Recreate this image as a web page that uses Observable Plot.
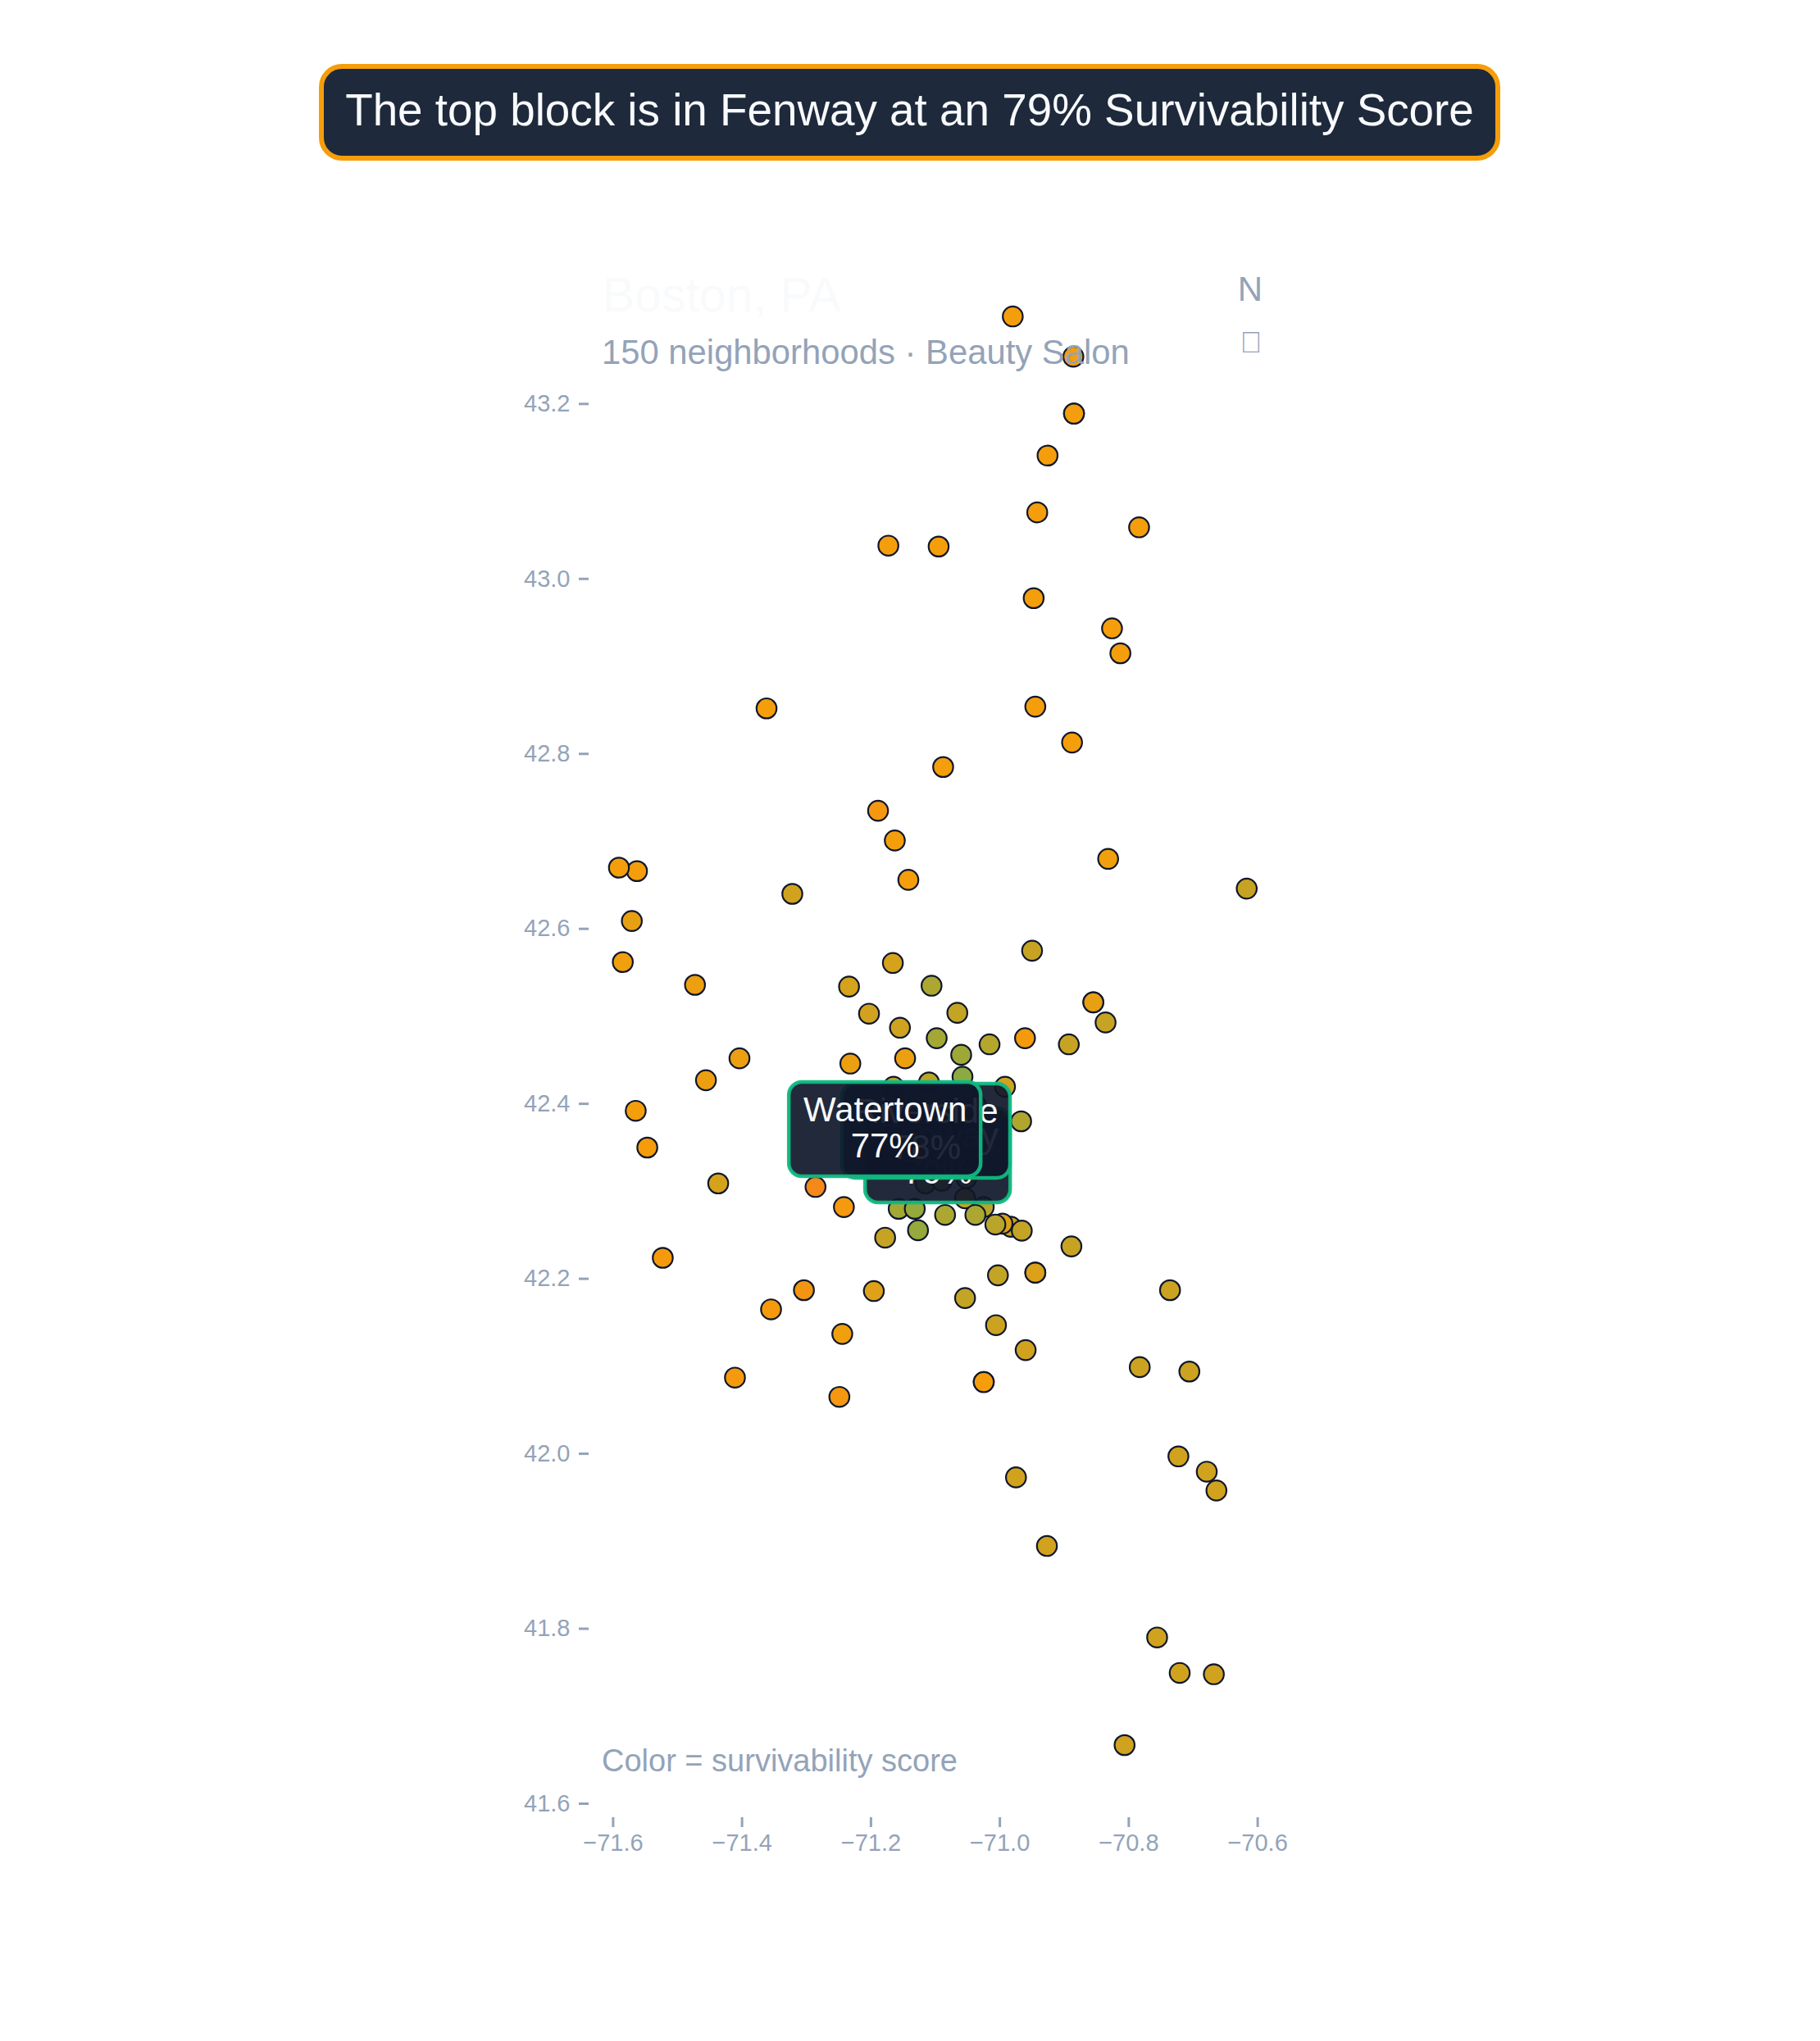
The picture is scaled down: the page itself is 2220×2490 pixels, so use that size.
<!DOCTYPE html>
<html><head><meta charset="utf-8">
<script src="https://cdn.jsdelivr.net/npm/d3@7"></script>
<script src="https://cdn.jsdelivr.net/npm/@observablehq/plot@0.6"></script>
<style>
html,body{margin:0;padding:0;background:#fff;font-family:"Liberation Sans",sans-serif}
#wrap{position:relative;width:2220px;height:2490px;overflow:hidden}
#wrap svg{position:absolute;left:0;top:0}
.lab{position:absolute;white-space:nowrap;line-height:1;font-family:"Liberation Sans",sans-serif}
#banner{position:absolute;left:389px;top:78px;width:1441px;height:118px;box-sizing:border-box;border:6px solid #f59e0b;border-radius:28px;background:#1e293b;color:#f8fafc;font-size:54.8px;text-align:center;line-height:100px;white-space:nowrap}
</style></head><body>
<div id="wrap"></div>
<script>
const bannerText = "The top block is in Fenway at an 79% Survivability Score";
const cityTitle = "Boston, PA";
const subtitle = "150 neighborhoods · Beauty Salon";
const colorNote = "Color = survivability score";
const northLabel = "N";
const compassGlyph = "\uE000";

const xTicks = [-71.6,-71.4,-71.2,-71.0,-70.8,-70.6];
const yTicks = [41.6,41.8,42.0,42.2,42.4,42.6,42.8,43.0,43.2];

const lons = [-70.980,-70.886,-70.885,-70.885,-70.926,-70.942,-70.784,-71.173,-71.095,-70.9475,-70.826,-70.813,-71.362,-70.945,-70.888,-71.088,-71.189,-71.163,-71.563,-71.591,-71.322,-71.142,-70.832,-70.617,-71.571,
-70.950,-71.585,-71.166,-71.473,-71.234,-71.106,-70.855,-70.855,-70.836,-71.203,-71.066,-71.155,-71.098,-71.016,-70.961,-70.893,-71.060,-71.404,-71.147,-71.232,-71.456,-71.058,-71.110,-71.165,-70.992,-71.565,-70.967,-71.547,-71.437,-71.286,-71.242,
-71.1155,-71.090,-71.052,-71.037,-71.054,-71.025,-71.157,-71.132,-71.085,-71.038,-70.983,-70.996,-71.007,-70.966,-71.178,-71.127,-70.889,
-71.523,-71.003,-70.945,-70.945,-71.304,-71.1955,-70.736,-71.355,-71.054,-71.006,-71.2445,-70.960,-70.783,-70.706,-71.411,-71.025,-71.025,-71.249,-70.723,-70.679,-70.664,-70.975,-70.927,-70.756,-70.721,-70.668,-70.8065];
const lats = [43.300,43.254,43.189,43.189,43.141,43.076,43.059,43.038,43.037,42.978,42.9435,42.915,42.852,42.854,42.813,42.785,42.735,42.701,42.666,42.670,42.640,42.656,42.680,42.646,42.609,
42.575,42.562,42.561,42.536,42.534,42.535,42.516,42.516,42.493,42.503,42.504,42.487,42.475,42.468,42.475,42.468,42.456,42.452,42.452,42.446,42.427,42.431,42.4245,42.4195,42.4195,42.392,42.380,42.350,42.309,42.305,42.282,
42.309,42.312,42.315,42.398,42.292,42.282,42.280,42.280,42.273,42.273,42.2595,42.263,42.262,42.255,42.247,42.2555,42.237,
42.224,42.204,42.207,42.207,42.187,42.186,42.187,42.165,42.178,42.147,42.137,42.1185,42.099,42.094,42.087,42.082,42.082,42.065,41.997,41.9795,41.958,41.973,41.8946,41.790,41.7495,41.748,41.667];
const scores = [50,50,50,50,50,50,50,50,50,50,50,50,50,50,50,50,46,50,50,50,58,50,51,60,53,
60,51,57,52,57,66,53,53,60,58,61,58,68,64,48,60,69,52,52,52,52,73,63,60,58,50,65,49,57,38,47,
70,68,68,66,58,64,68,71,66,66,58,56,63,61,60,71,60,
48,61,56,56,45,55,59,48,61,59,51,58,59,59,48,50,50,46,58,58,58,58,58,58,58,58,58];

const tipNames = ["Fenway","Riverside","Watertown"];
const tipScores = [79,78,77];
const tipLons = [-71.096,-71.114,-71.178];
const tipLats = [42.3406,42.3688,42.3706];
const tipWidths = [177,205,234];

const pxPerLon = 786.2, pxPerLat = 1067.3, tipHeight = 115;
const points = lons.map((lon,i)=>({lon,lat:lats[i],score:scores[i]}));
const tips = tipNames.map((name,i)=>({name,label:`${name}\n${tipScores[i]}%`,lon:tipLons[i],lat:tipLats[i],hw:tipWidths[i]/2/pxPerLon,hh:tipHeight/2/pxPerLat}));

const tipMarks = tips.flatMap(t=>[
  Plot.rect([t],{x1:d=>d.lon-d.hw,x2:d=>d.lon+d.hw,y1:d=>d.lat-d.hh,y2:d=>d.lat+d.hh,
    fill:"#0f172a",fillOpacity:0.92,stroke:"#10b981",strokeWidth:4.5,strokeOpacity:0.95,rx:16}),
  Plot.text([t],{x:"lon",y:"lat",text:"label",fill:"#f8fafc",fontSize:42,lineHeight:1.05,textAnchor:"middle",dy:-2.5})
]);

const chart = Plot.plot({
  width:2220,height:2490,
  marginLeft:718,marginRight:680,marginTop:300,marginBottom:273,
  style:{background:"transparent",fontFamily:"'Liberation Sans',sans-serif"},
  x:{domain:[-71.6,-70.6],range:[747.4,1533.6]},
  y:{domain:[41.6,43.2],range:[2200,492.3]},
  color:{type:"linear",domain:[0,50,100],range:["#ef4444","#f59e0b","#10b981"],interpolate:"rgb"},
  marks:[
    Plot.axisX({ticks:xTicks,tickFormat:".1f",label:null,tickSize:12,tickPadding:8,fontSize:29,stroke:"#94a3b8",fill:"#94a3b8",strokeWidth:3,strokeOpacity:1}),
    Plot.axisY({ticks:yTicks,tickFormat:".1f",label:null,tickSize:12,tickPadding:11,fontSize:29,stroke:"#94a3b8",fill:"#94a3b8",strokeWidth:3,strokeOpacity:1}),
    Plot.dot(points,{x:"lon",y:"lat",fill:"score",r:12.2,stroke:"#0f172a",strokeWidth:2.2}),
    ...tipMarks
  ]
});
const wrap = document.getElementById("wrap");
wrap.appendChild(chart);

function lab(text,left,baseline,size,color,anchor){
  const d=document.createElement("div");
  d.className="lab";d.textContent=text;
  d.style.fontSize=size+"px";d.style.color=color;d.style.left=left+"px";
  d.style.top=(baseline-size*0.86)+"px";
  if(anchor==="middle")d.style.transform="translateX(-50%)";
  wrap.appendChild(d);
}
const b=document.createElement("div");b.id="banner";b.textContent=bannerText;wrap.appendChild(b);
lab(cityTitle,735,382,59,"#f8fafc");
lab(subtitle,734,445,41.8,"#94a3b8");
lab(northLabel,1525,368,42,"#94a3b8","middle");
lab(compassGlyph,1526,431,36,"#94a3b8","middle");
lab(colorNote,734,2162,38,"#94a3b8");
</script>
</body></html>
